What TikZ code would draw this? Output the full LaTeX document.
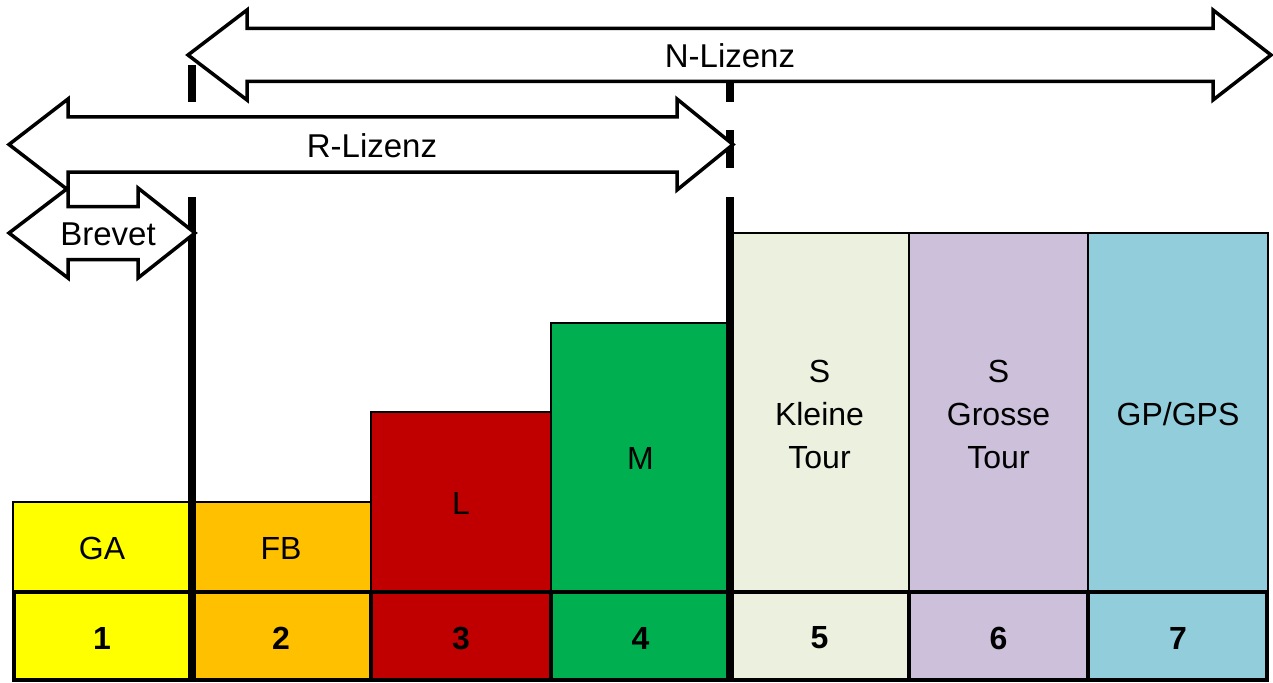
\documentclass[tikz,border=0pt]{standalone}
\usepackage{fontspec}
\setmainfont{Liberation Sans}
\definecolor{cGA}{HTML}{FFFF00}
\definecolor{cFB}{HTML}{FFC000}
\definecolor{cL}{HTML}{C00000}
\definecolor{cM}{HTML}{00B050}
\definecolor{cSK}{HTML}{EBF1DE}
\definecolor{cSG}{HTML}{CCC0DA}
\definecolor{cGP}{HTML}{92CDDC}
\begin{document}
\begin{tikzpicture}[x=1pt,y=-1pt,
  bar/.style={draw=black, line width=1.5pt},
  cell/.style={draw=black, line width=4pt},
  lbl/.style={font=\fontsize{32}{43}\selectfont, align=center, inner sep=0pt},
  num/.style={font=\fontsize{32}{37}\selectfont\bfseries, inner sep=0pt},
  alb/.style={font=\fontsize{33}{38}\selectfont, inner sep=0pt},
  arr/.style={draw=black, fill=white, line width=3.5pt},
  sep/.style={draw=black, line width=8pt, dash pattern=on 37pt off 28pt on 38pt off 29pt on 700pt}]
\useasboundingbox (0,0) rectangle (1273,682);
% upper bars
\draw[bar, fill=cGA] (13,502) rectangle (191,592);
\draw[bar, fill=cFB] (191,502) rectangle (371,592);
\draw[bar, fill=cL] (371,412) rectangle (551,592);
\draw[bar, fill=cM] (551,323) rectangle (730,592);
\draw[bar, fill=cSK] (730,233) rectangle (909,592);
\draw[bar, fill=cSG] (909,233) rectangle (1088,592);
\draw[bar, fill=cGP] (1088,233) rectangle (1268,592);
\node[lbl] (ga) at (102,548) {GA};
\node[lbl] (fb) at (281,548) {FB};
\node[lbl] (l) at (461,503) {L};
\node[lbl] (m) at (640.5,458) {M};
\node[lbl] (sk) at (819.5,414) {S\\Kleine\\Tour};
\node[lbl] (sg) at (998.5,414) {S\\Grosse\\Tour};
\node[lbl] (gp) at (1178,414) {GP/GPS};
% number row
\draw[cell, fill=cGA] (14,592) rectangle (191,680);
\draw[cell, fill=cFB] (191,592) rectangle (371,680);
\draw[cell, fill=cL] (371,592) rectangle (551,680);
\draw[cell, fill=cM] (551,592) rectangle (730,680);
\draw[cell, fill=cSK] (730,592) rectangle (909,680);
\draw[cell, fill=cSG] (909,592) rectangle (1088,680);
\draw[cell, fill=cGP] (1088,592) rectangle (1267,680);
\node[num] (n1) at (102,638) {1};
\node[num] (n2) at (281,638) {2};
\node[num] (n3) at (461,638) {3};
\node[num] (n4) at (640.5,638) {4};
\node[num] (n5) at (819.5,638) {5};
\node[num] (n6) at (998.5,638) {6};
\node[num] (n7) at (1178,638) {7};
% separators
\draw[sep] (191.5,65) -- (191.5,680);
\draw[sep] (730,65) -- (730,680);
% arrows
\draw[arr] (188,55) -- (247,10) -- (247,28.5) -- (1213,28.5) -- (1213,10) -- (1271,55)
  -- (1213,100) -- (1213,81.5) -- (247,81.5) -- (247,100) -- cycle;
\node[alb] (nlz) at (730,56) {N-Lizenz};
\draw[arr] (9,144.5) -- (68,99) -- (68,117) -- (677,117) -- (677,99) -- (733,144.5)
  -- (677,190) -- (677,172) -- (68,172) -- (68,190) -- cycle;
\node[alb] (rlz) at (372,145.5) {R-Lizenz};
\draw[arr] (9,233) -- (68,188) -- (68,206.5) -- (138,206.5) -- (138,188) -- (195,233)
  -- (138,278) -- (138,259.5) -- (68,259.5) -- (68,278) -- cycle;
\node[alb] (brv) at (108,234) {Brevet};
\end{tikzpicture}
\end{document}
